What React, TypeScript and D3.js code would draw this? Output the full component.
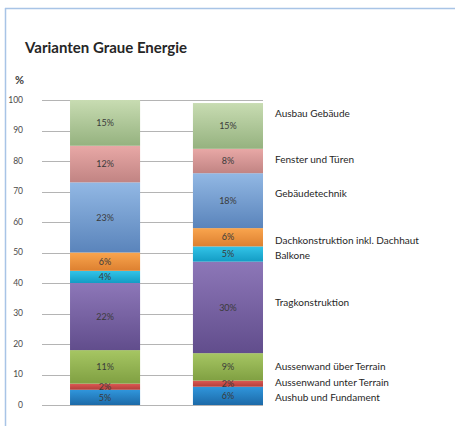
import * as d3 from 'd3';
import { useEffect, useRef } from 'react';

// Varianten, bottom to top
const variants = ['Variante 1', 'Variante 2'];

const categories = [
  'Aushub und Fundament',
  'Aussenwand unter Terrain',
  'Aussenwand über Terrain',
  'Tragkonstruktion',
  'Balkone',
  'Dachkonstruktion inkl. Dachhaut',
  'Gebäudetechnik',
  'Fenster und Türen',
  'Ausbau Gebäude',
];

const variant1 = [5, 2, 11, 22, 4, 6, 23, 12, 15];
const variant2 = [6, 2, 9, 30, 5, 6, 18, 8, 15];

const yTicks = [0, 10, 20, 30, 40, 50, 60, 70, 80, 90, 100];

// where each legend text sits, in % on the y axis
const legendAt = [2.5, 7.3, 12.5, 33.5, 49, 53.8, 69.5, 80.5, 95.5];

// gradient top / bottom per category
const colorTop = ['#3096dc', '#dc5a55', '#a6c663', '#8d77b8', '#33c4e8', '#f9a54e', '#92b8e4', '#e8a8a6', '#c8dcb2'];
const colorBottom = ['#1c6aa8', '#b33d39', '#80a042', '#614d8c', '#139cc4', '#dd8030', '#5a84bb', '#c18483', '#95b27f'];

const W = 455;
const H = 426;

function App() {
  const svgElement = useRef<SVGSVGElement | null>(null);

  useEffect(() => {
    document.body.style.margin = '0';
    const svg = d3.select(svgElement.current);
    svg.selectAll('*').remove();

    const font = "Lato, 'Open Sans', sans-serif";

    // frame lines
    svg.append('line').attr('x1', 5).attr('x2', W).attr('y1', 8.5).attr('y2', 8.5)
      .attr('stroke', '#a8c4e6').attr('stroke-width', 1.5);
    svg.append('line').attr('x1', 5.5).attr('x2', 5.5).attr('y1', 8).attr('y2', H)
      .attr('stroke', '#a8c4e6').attr('stroke-width', 1.5);

    svg.append('text').attr('x', 25).attr('y', 53)
      .attr('font-family', font).attr('font-weight', 700).attr('font-size', 15)
      .attr('fill', '#262626').text('Varianten Graue Energie');

    const y = d3.scaleLinear().domain([0, 100]).range([405, 100]);
    const x = d3.scaleBand<string>().domain(variants).range([42, 263])
      .paddingInner(0.43).paddingOuter(0.114).align(1);

    svg.append('text').attr('x', 15).attr('y', 84)
      .attr('font-family', font).attr('font-weight', 700).attr('font-size', 11)
      .attr('fill', '#404040').text('%');

    const grid = svg.append('g');
    grid.selectAll('line').data(yTicks).join('line')
      .attr('x1', 42).attr('x2', 263)
      .attr('y1', (d) => Math.round(y(d)) + 0.5).attr('y2', (d) => Math.round(y(d)) + 0.5)
      .attr('stroke', '#b4b4b4').attr('stroke-width', 1);
    grid.selectAll('text').data(yTicks).join('text')
      .attr('x', 23).attr('y', (d) => y(d)).attr('dy', '0.35em')
      .attr('text-anchor', 'end').attr('font-family', font).attr('font-size', 8.5)
      .attr('fill', '#4a4a4a').text((d) => d);

    const defs = svg.append('defs');
    categories.forEach((c, i) => {
      const g = defs.append('linearGradient').attr('id', `grad${i}`)
        .attr('x1', 0).attr('x2', 0).attr('y1', 0).attr('y2', 1);
      g.append('stop').attr('offset', '0%').attr('stop-color', colorTop[i]);
      g.append('stop').attr('offset', '100%').attr('stop-color', colorBottom[i]);
    });

    const table = categories.map((c, i) => ({ key: c, 'Variante 1': variant1[i], 'Variante 2': variant2[i] }));
    const rows = variants.map((v) => {
      const r: Record<string, number | string> = { variant: v };
      categories.forEach((c, i) => { r[c] = (table[i] as any)[v]; });
      return r;
    });
    const stack = d3.stack<Record<string, number | string>>().keys(categories)
      .value((d, k) => d[k] as number);
    const series = stack(rows);

    const layers = svg.append('g').selectAll('g').data(series).join('g')
      .attr('fill', (d, i) => `url(#grad${i})`);
    layers.selectAll('rect').data((d) => d).join('rect')
      .attr('x', (d) => x(d.data.variant as string) ?? 0)
      .attr('width', x.bandwidth())
      .attr('y', (d) => y(d[1]))
      .attr('height', (d) => y(d[0]) - y(d[1]));

    const labels = svg.append('g').selectAll('g').data(series).join('g');
    labels.selectAll('text').data((d) => d).join('text')
      .attr('x', (d) => (x(d.data.variant as string) ?? 0) + x.bandwidth() / 2)
      .attr('y', (d) => y((d[0] + d[1]) / 2)).attr('dy', '0.35em')
      .attr('text-anchor', 'middle').attr('font-family', font).attr('font-size', 9)
      .attr('fill', '#3a3a3a').text((d) => `${d[1] - d[0]}%`);

    svg.append('g').selectAll('text').data(categories).join('text')
      .attr('x', 275).attr('y', (d, i) => y(legendAt[i])).attr('dy', '0.35em')
      .attr('font-family', font).attr('font-size', 10)
      .attr('fill', '#262626').text((d) => d);
  }, []);

  return <svg ref={svgElement} width={W} height={H} style={{ display: 'block', background: '#fff' }} />;
}

export default App;
